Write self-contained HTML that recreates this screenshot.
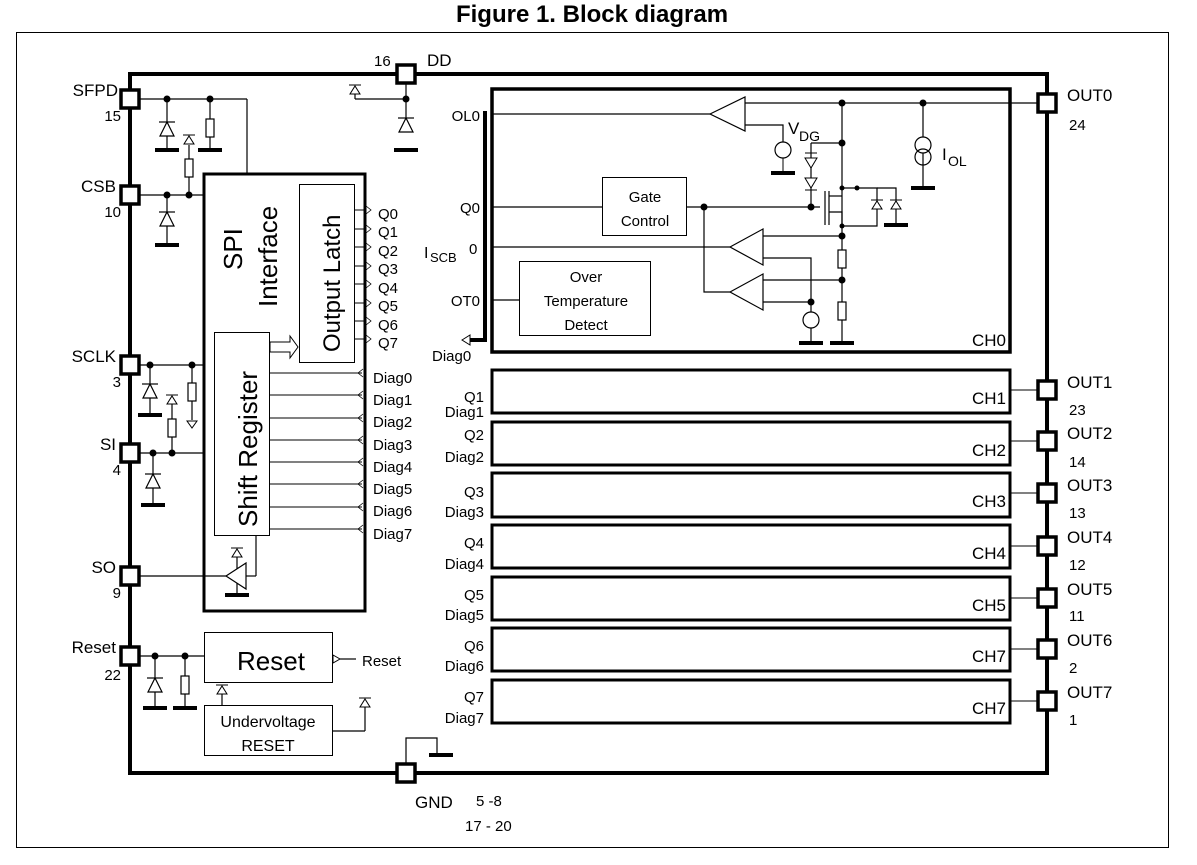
<!DOCTYPE html>
<html><head><meta charset="utf-8"><style>
html,body{margin:0;padding:0;background:#fff;}
svg{display:block;font-family:"Liberation Sans",Arial,sans-serif;}
</style></head><body>
<svg width="1197" height="865" viewBox="0 0 1197 865" xmlns="http://www.w3.org/2000/svg">
<defs>
<g id="gnd"><line x1="-12" y1="0" x2="12" y2="0" stroke="#000" stroke-width="4"/></g>
<g id="zen"><polygon points="-7,8 7,8 0,-6" fill="#fff" stroke="#000" stroke-width="1.2"/><line x1="-8" y1="-6" x2="8" y2="-6" stroke="#000" stroke-width="1.2"/></g>
<g id="sup"><polygon points="-5,4 5,4 0,-4" fill="#fff" stroke="#000" stroke-width="1"/><line x1="-6" y1="-5" x2="6" y2="-5" stroke="#000" stroke-width="1"/></g>
<g id="pin"><rect x="-9" y="-9" width="18" height="18" fill="#fff" stroke="#000" stroke-width="3.5"/></g>
<g id="res"><rect x="-4" y="-9" width="8" height="18" fill="#fff" stroke="#000" stroke-width="1.2"/></g>
<circle id="dot" r="3.5" fill="#000"/>
<g id="inR"><polyline points="0,-4 5,0 0,4" fill="none" stroke="#000" stroke-width="0.8"/></g>
<g id="inL"><polyline points="0,-4 -5,0 0,4" fill="none" stroke="#000" stroke-width="0.8"/></g>
</defs>
<text x="592" y="22" font-size="24" font-weight="bold" text-anchor="middle">Figure 1. Block diagram</text>
<rect x="16.5" y="32.5" width="1152" height="815" fill="none" stroke="#000" stroke-width="1"/>
<rect x="130" y="74" width="917" height="699" fill="none" stroke="#000" stroke-width="4"/>

<g stroke="#000" stroke-width="1.2" fill="none">
<line x1="130" y1="99" x2="247" y2="99"/><line x1="247" y1="99" x2="247" y2="174"/>
<line x1="167" y1="99" x2="167" y2="150"/><line x1="210" y1="99" x2="210" y2="150"/>
<line x1="130" y1="195" x2="204" y2="195"/><line x1="167" y1="195" x2="167" y2="245"/>
<line x1="189" y1="145" x2="189" y2="195"/>
<line x1="130" y1="365" x2="204" y2="365"/><line x1="150" y1="365" x2="150" y2="415"/><line x1="192" y1="365" x2="192" y2="420"/>
<line x1="130" y1="453" x2="204" y2="453"/><line x1="153" y1="453" x2="153" y2="505"/><line x1="172" y1="398" x2="172" y2="453"/>
<line x1="130" y1="576" x2="226" y2="576"/><line x1="246" y1="576" x2="256" y2="576"/><line x1="256" y1="576" x2="256" y2="535"/>
<line x1="237" y1="555" x2="237" y2="595"/>
<line x1="130" y1="656" x2="204" y2="656"/><line x1="155" y1="656" x2="155" y2="708"/><line x1="185" y1="656" x2="185" y2="708"/>
<line x1="222" y1="688" x2="222" y2="706"/>
<line x1="333" y1="731" x2="365" y2="731"/><line x1="365" y1="731" x2="365" y2="703"/>
<line x1="340" y1="659" x2="356" y2="659"/>
<line x1="406" y1="74" x2="406" y2="125"/><line x1="355" y1="99" x2="406" y2="99"/><line x1="355" y1="92" x2="355" y2="99"/>
<polyline points="406,773 406,738 437,738 437,755"/>
</g>
<use href="#gnd" x="167" y="150"/><use href="#gnd" x="210" y="150"/><use href="#gnd" x="167" y="245"/>
<use href="#gnd" x="150" y="415"/><use href="#gnd" x="153" y="505"/><use href="#gnd" x="155" y="708"/><use href="#gnd" x="185" y="708"/>
<use href="#gnd" x="237" y="595"/><use href="#gnd" x="406" y="150"/><use href="#gnd" x="441" y="755"/>
<use href="#zen" x="167" y="128"/><use href="#zen" x="167" y="218"/><use href="#zen" x="150" y="390"/><use href="#zen" x="153" y="480"/><use href="#zen" x="155" y="684"/><use href="#zen" x="406" y="124"/>
<use href="#res" x="210" y="128"/><use href="#res" x="189" y="168"/><use href="#res" x="192" y="392"/><use href="#res" x="172" y="428"/><use href="#res" x="185" y="685"/>
<use href="#sup" x="189" y="140"/><use href="#sup" x="172" y="400"/><use href="#sup" x="355" y="90"/><use href="#sup" x="222" y="690"/><use href="#sup" x="365" y="703"/><use href="#sup" x="237" y="553"/>
<polygon points="187,421 197,421 192,428" fill="#fff" stroke="#000"/>
<use href="#dot" x="167" y="99"/><use href="#dot" x="210" y="99"/><use href="#dot" x="167" y="195"/><use href="#dot" x="189" y="195"/>
<use href="#dot" x="150" y="365"/><use href="#dot" x="192" y="365"/><use href="#dot" x="153" y="453"/><use href="#dot" x="172" y="453"/>
<use href="#dot" x="155" y="656"/><use href="#dot" x="185" y="656"/><use href="#dot" x="406" y="99"/>
<polygon points="226,576 246,563 246,589" fill="#fff" stroke="#000" stroke-width="1.2"/>

<use href="#pin" x="130" y="99"/><use href="#pin" x="130" y="195"/><use href="#pin" x="130" y="365"/><use href="#pin" x="130" y="453"/>
<use href="#pin" x="130" y="576"/><use href="#pin" x="130" y="656"/><use href="#pin" x="406" y="74"/><use href="#pin" x="406" y="773"/>
<g font-size="17">
<text x="118" y="96" text-anchor="end">SFPD</text><text x="121" y="121" text-anchor="end" font-size="15">15</text>
<text x="116" y="192" text-anchor="end">CSB</text><text x="121" y="217" text-anchor="end" font-size="15">10</text>
<text x="116" y="362" text-anchor="end">SCLK</text><text x="121" y="387" text-anchor="end" font-size="15">3</text>
<text x="116" y="450" text-anchor="end">SI</text><text x="121" y="475" text-anchor="end" font-size="15">4</text>
<text x="116" y="573" text-anchor="end">SO</text><text x="121" y="598" text-anchor="end" font-size="15">9</text>
<text x="116" y="653" text-anchor="end">Reset</text><text x="121" y="680" text-anchor="end" font-size="15">22</text>
<text x="427" y="66">DD</text><text x="374" y="66" font-size="15">16</text>
<text x="415" y="808">GND</text><text x="476" y="806" font-size="15">5 -8</text><text x="465" y="831" font-size="15">17 - 20</text>
</g>

<rect x="204" y="174" width="161" height="437" fill="none" stroke="#000" stroke-width="3"/>
<rect x="299.5" y="184.5" width="55" height="178" fill="none" stroke="#000" stroke-width="1"/>
<rect x="214.5" y="332.5" width="55" height="203" fill="#fff" stroke="#000" stroke-width="1"/>
<text transform="translate(242,270) rotate(-90)" font-size="26">SPI</text>
<text transform="translate(277,307) rotate(-90)" font-size="26">Interface</text>
<text transform="translate(340,352) rotate(-90)" font-size="24">Output Latch</text>
<text transform="translate(257,527) rotate(-90)" font-size="26">Shift Register</text>
<polygon points="270,342 290,342 290,336 298,347 290,358 290,352 270,352" fill="#fff" stroke="#000" stroke-width="1"/>
<g stroke="#000" stroke-width="1" fill="none">
<line x1="354" y1="210" x2="365" y2="210"/><line x1="354" y1="229" x2="365" y2="229"/><line x1="354" y1="247" x2="365" y2="247"/><line x1="354" y1="266" x2="365" y2="266"/>
<line x1="354" y1="284" x2="365" y2="284"/><line x1="354" y1="303" x2="365" y2="303"/><line x1="354" y1="321" x2="365" y2="321"/><line x1="354" y1="339" x2="365" y2="339"/>
<line x1="269" y1="373" x2="362" y2="373"/><line x1="269" y1="395" x2="362" y2="395"/><line x1="269" y1="418" x2="362" y2="418"/><line x1="269" y1="440" x2="362" y2="440"/>
<line x1="269" y1="462" x2="362" y2="462"/><line x1="269" y1="484" x2="362" y2="484"/><line x1="269" y1="507" x2="362" y2="507"/><line x1="269" y1="529" x2="362" y2="529"/>
</g>
<use href="#inR" x="366" y="210"/><use href="#inR" x="366" y="229"/><use href="#inR" x="366" y="247"/><use href="#inR" x="366" y="266"/>
<use href="#inR" x="366" y="284"/><use href="#inR" x="366" y="303"/><use href="#inR" x="366" y="321"/><use href="#inR" x="366" y="339"/>
<use href="#inL" x="363" y="373"/><use href="#inL" x="363" y="395"/><use href="#inL" x="363" y="418"/><use href="#inL" x="363" y="440"/>
<use href="#inL" x="363" y="462"/><use href="#inL" x="363" y="484"/><use href="#inL" x="363" y="507"/><use href="#inL" x="363" y="529"/>
<g font-size="15">
<text x="378" y="219">Q0</text><text x="378" y="237">Q1</text><text x="378" y="256">Q2</text><text x="378" y="274">Q3</text>
<text x="378" y="293">Q4</text><text x="378" y="311">Q5</text><text x="378" y="330">Q6</text><text x="378" y="348">Q7</text>
<text x="373" y="383">Diag0</text><text x="373" y="405">Diag1</text><text x="373" y="427">Diag2</text><text x="373" y="450">Diag3</text>
<text x="373" y="472">Diag4</text><text x="373" y="494">Diag5</text><text x="373" y="516">Diag6</text><text x="373" y="539">Diag7</text>
</g>

<rect x="204.5" y="632.5" width="128" height="50" fill="none" stroke="#000" stroke-width="1"/>
<text x="271" y="670" font-size="26" text-anchor="middle">Reset</text>
<text x="362" y="666" font-size="15">Reset</text>
<polygon points="333,655 340,659 333,663" fill="#fff" stroke="#000"/>
<rect x="204.5" y="705.5" width="128" height="50" fill="none" stroke="#000" stroke-width="1"/>
<text x="268" y="727" font-size="16" text-anchor="middle">Undervoltage</text>
<text x="268" y="751" font-size="16" text-anchor="middle">RESET</text>

<rect x="492" y="89" width="518" height="263" fill="none" stroke="#000" stroke-width="3.5"/>
<polyline points="487,113 485,113 485,340 468,340" fill="none" stroke="#000" stroke-width="4"/>
<polygon points="462,340 470,335 470,345" fill="#fff" stroke="#000"/>
<g font-size="15">
<text x="480" y="121" text-anchor="end">OL0</text>
<text x="480" y="213" text-anchor="end">Q0</text>
<text x="424" y="258" font-size="16">I</text><text x="430" y="262" font-size="13">SCB</text><text x="469" y="254">0</text>
<text x="480" y="306" text-anchor="end">OT0</text>
<text x="432" y="361">Diag0</text>
<text x="1006" y="346" text-anchor="end" font-size="17">CH0</text>
</g>
<g stroke="#000" stroke-width="1.2" fill="none">
<line x1="492" y1="114" x2="710" y2="114"/>
<line x1="745" y1="103" x2="1047" y2="103"/>
<polyline points="745,125 783,125 783,142"/>
<line x1="842" y1="103" x2="842" y2="343"/>
<line x1="923" y1="103" x2="923" y2="188"/>
<line x1="492" y1="207" x2="602" y2="207"/>
<line x1="686" y1="207" x2="820" y2="207"/>
<polyline points="704,207 704,292 730,292"/>
<line x1="492" y1="247" x2="730" y2="247"/>
<line x1="492" y1="300" x2="519" y2="300"/>
<polyline points="763,236 842,236"/><polyline points="763,258 811,258 811,312"/>
<polyline points="763,280 842,280"/><polyline points="763,302 811,302"/>
<polyline points="811,143 842,143"/>
<line x1="811" y1="143" x2="811" y2="207"/>
<line x1="825" y1="191" x2="825" y2="225"/><line x1="829" y1="191" x2="829" y2="225"/>
<polyline points="829,196 842,196"/><polyline points="829,212 842,212 842,225"/>
<polyline points="842,188 877,188 877,226 842,226"/>
<polyline points="877,188 896,188 896,225"/>
<line x1="811" y1="328" x2="811" y2="343"/>
</g>
<polygon points="710,114 745,97 745,131" fill="#fff" stroke="#000" stroke-width="1.2"/>
<polygon points="730,247 763,229 763,265" fill="#fff" stroke="#000" stroke-width="1.2"/>
<polygon points="730,292 763,274 763,310" fill="#fff" stroke="#000" stroke-width="1.2"/>
<circle cx="783" cy="150" r="8" fill="#fff" stroke="#000" stroke-width="1.2"/><line x1="783" y1="158" x2="783" y2="173" stroke="#000"/>
<use href="#gnd" x="783" y="173"/>
<circle cx="811" cy="320" r="8" fill="#fff" stroke="#000" stroke-width="1.2"/>
<use href="#gnd" x="811" y="343"/><use href="#gnd" x="842" y="343"/><use href="#gnd" x="923" y="188"/><use href="#gnd" x="896" y="225"/>
<circle cx="923" cy="145" r="8" fill="#fff" stroke="#000" stroke-width="1.2"/><circle cx="923" cy="157" r="8" fill="none" stroke="#000" stroke-width="1.2"/>
<use href="#res" x="842" y="259"/><use href="#res" x="842" y="311"/>
<polygon points="805,158 817,158 811,168" fill="#fff" stroke="#000"/><line x1="805" y1="153" x2="817" y2="153" stroke="#000"/>
<polygon points="805,178 817,178 811,188" fill="#fff" stroke="#000"/><line x1="805" y1="190" x2="817" y2="190" stroke="#000"/>
<use href="#sup" x="877" y="205"/><use href="#sup" x="896" y="205"/>
<g><use href="#dot" x="842" y="103"/><use href="#dot" x="923" y="103"/><use href="#dot" x="842" y="143"/><use href="#dot" x="704" y="207"/><use href="#dot" x="811" y="207"/>
<use href="#dot" x="842" y="236"/><use href="#dot" x="842" y="280"/><use href="#dot" x="811" y="302"/><circle cx="842" cy="188" r="2.5"/><circle cx="857" cy="188" r="2.5"/><circle cx="842" cy="226" r="2.5"/></g>
<text x="788" y="134" font-size="17">V</text><text x="799" y="141" font-size="14">DG</text>
<text x="942" y="160" font-size="17">I</text><text x="948" y="166" font-size="14">OL</text>
<rect x="602.5" y="177.5" width="84" height="58" fill="#fff" stroke="#000" stroke-width="1"/>
<text x="645" y="202" font-size="15" text-anchor="middle">Gate</text><text x="645" y="226" font-size="15" text-anchor="middle">Control</text>
<rect x="519.5" y="261.5" width="131" height="74" fill="#fff" stroke="#000" stroke-width="1"/>
<text x="586" y="282" font-size="15" text-anchor="middle">Over</text><text x="586" y="306" font-size="15" text-anchor="middle">Temperature</text><text x="586" y="330" font-size="15" text-anchor="middle">Detect</text>

<g fill="none" stroke="#000" stroke-width="3">
<rect x="492" y="370" width="518" height="43"/><rect x="492" y="422" width="518" height="43"/>
<rect x="492" y="473" width="518" height="44"/><rect x="492" y="525" width="518" height="43"/>
<rect x="492" y="577" width="518" height="43"/><rect x="492" y="628" width="518" height="43"/>
<rect x="492" y="680" width="518" height="43"/>
</g>
<g stroke="#000" stroke-width="1">
<line x1="1010" y1="390" x2="1047" y2="390"/><line x1="1010" y1="441" x2="1047" y2="441"/><line x1="1010" y1="493" x2="1047" y2="493"/>
<line x1="1010" y1="546" x2="1047" y2="546"/><line x1="1010" y1="598" x2="1047" y2="598"/><line x1="1010" y1="649" x2="1047" y2="649"/><line x1="1010" y1="701" x2="1047" y2="701"/>
</g>
<g font-size="17" text-anchor="end">
<text x="1006" y="404">CH1</text><text x="1006" y="456">CH2</text><text x="1006" y="507">CH3</text><text x="1006" y="559">CH4</text>
<text x="1006" y="611">CH5</text><text x="1006" y="662">CH7</text><text x="1006" y="714">CH7</text>
</g>
<g font-size="15" text-anchor="end">
<text x="484" y="402">Q1</text><text x="484" y="417">Diag1</text>
<text x="484" y="440">Q2</text><text x="484" y="462">Diag2</text>
<text x="484" y="497">Q3</text><text x="484" y="517">Diag3</text>
<text x="484" y="548">Q4</text><text x="484" y="569">Diag4</text>
<text x="484" y="600">Q5</text><text x="484" y="620">Diag5</text>
<text x="484" y="651">Q6</text><text x="484" y="671">Diag6</text>
<text x="484" y="702">Q7</text><text x="484" y="723">Diag7</text>
</g>
<use href="#pin" x="1047" y="103"/><use href="#pin" x="1047" y="390"/><use href="#pin" x="1047" y="441"/><use href="#pin" x="1047" y="493"/>
<use href="#pin" x="1047" y="546"/><use href="#pin" x="1047" y="598"/><use href="#pin" x="1047" y="649"/><use href="#pin" x="1047" y="701"/>
<g font-size="17">
<text x="1067" y="101">OUT0</text><text x="1069" y="130" font-size="15">24</text>
<text x="1067" y="388">OUT1</text><text x="1069" y="415" font-size="15">23</text>
<text x="1067" y="439">OUT2</text><text x="1069" y="467" font-size="15">14</text>
<text x="1067" y="491">OUT3</text><text x="1069" y="518" font-size="15">13</text>
<text x="1067" y="543">OUT4</text><text x="1069" y="570" font-size="15">12</text>
<text x="1067" y="595">OUT5</text><text x="1069" y="621" font-size="15">11</text>
<text x="1067" y="646">OUT6</text><text x="1069" y="673" font-size="15">2</text>
<text x="1067" y="698">OUT7</text><text x="1069" y="725" font-size="15">1</text>
</g>
</svg>
</body></html>
